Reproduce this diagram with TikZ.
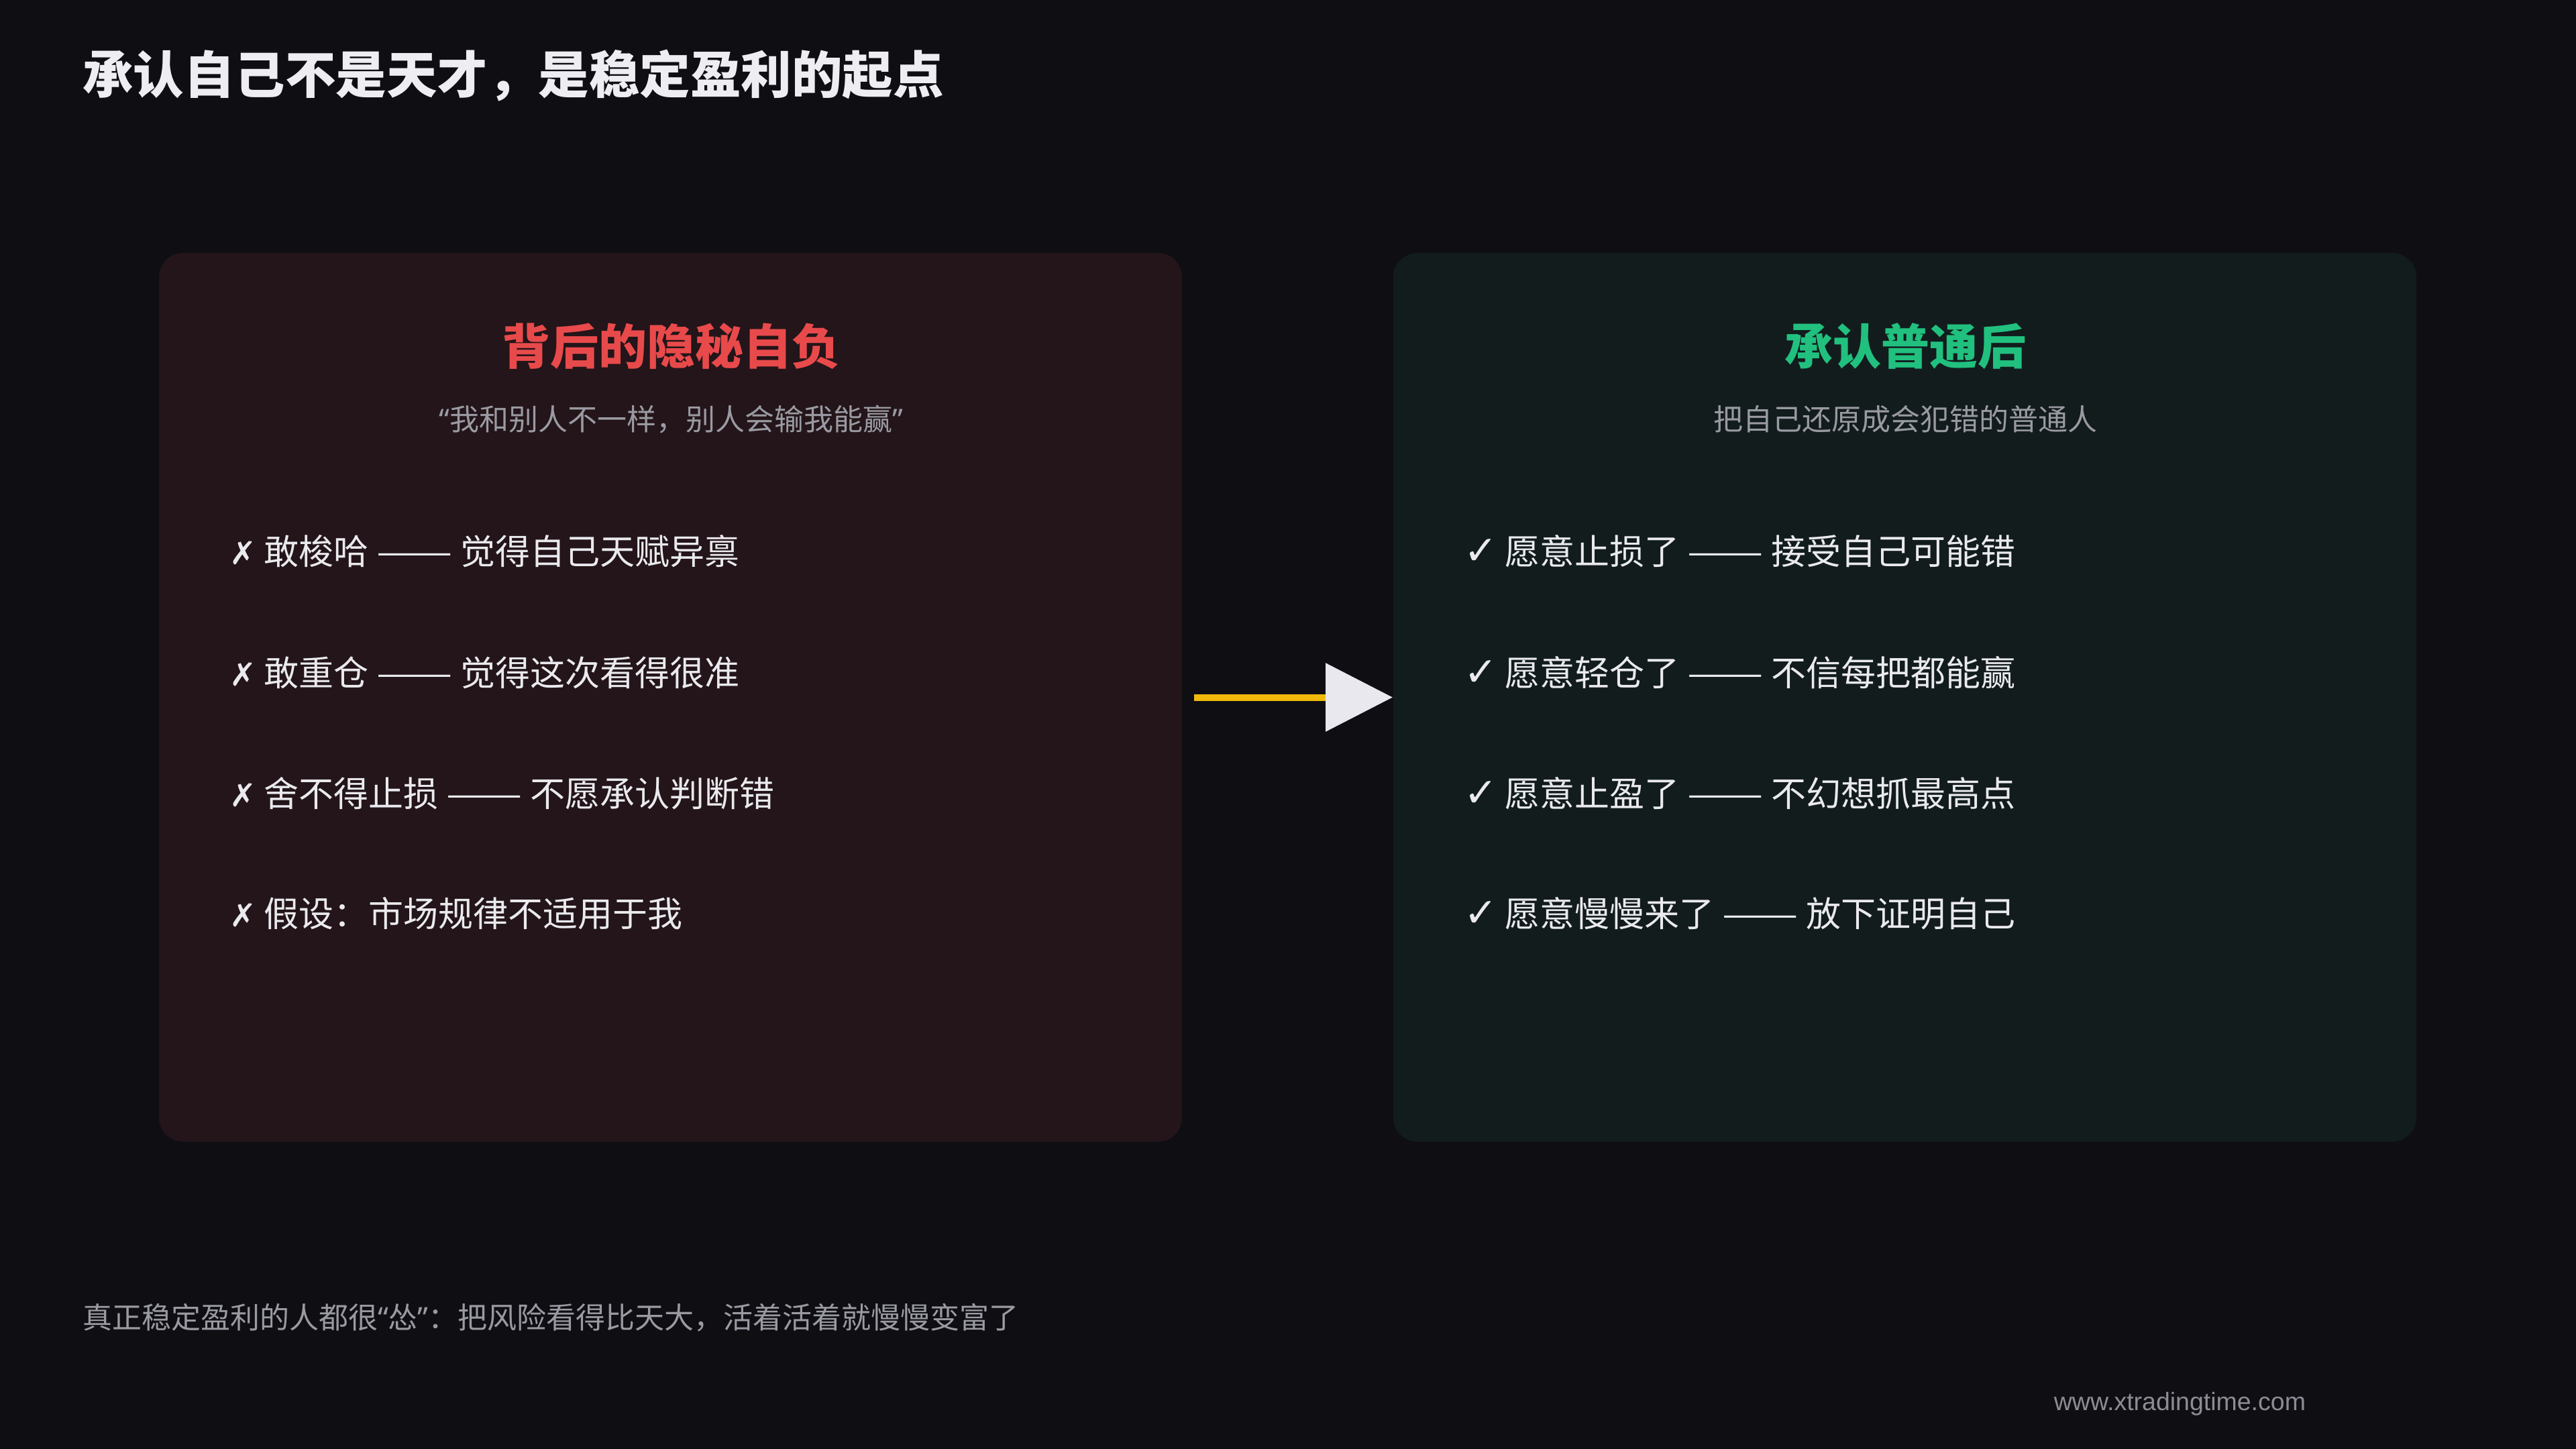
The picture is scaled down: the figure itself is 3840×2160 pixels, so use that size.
\documentclass[tikz,border=0pt]{standalone}
\usepackage{fontspec}
\usepackage{graphicx}
\setmainfont{Noto Sans CJK SC}
\newfontfamily\symfont{DejaVu Sans}
\newfontfamily\webfont{Liberation Sans}
\newfontfamily\quotefont{Noto Sans}
\usetikzlibrary{arrows.meta}
\definecolor{bgc}{HTML}{0E0E13}
\definecolor{leftbox}{HTML}{231519}
\definecolor{rightbox}{HTML}{121C1D}
\definecolor{titlec}{HTML}{EDEDF2}
\definecolor{redc}{HTML}{E84A4B}
\definecolor{greenc}{HTML}{21C07E}
\definecolor{grayc}{HTML}{9A9AA2}
\definecolor{itemc}{HTML}{EAEAEE}
\definecolor{yellowc}{HTML}{F0B90B}
\definecolor{tipc}{HTML}{E8E8EE}
\definecolor{webc}{HTML}{8C8C94}
\tikzset{
  panel/.style={rectangle, rounded corners=7.2pt, minimum width=305pt, minimum height=265pt, inner sep=0pt},
  maintitle/.style={anchor=west, inner sep=0pt, text=titlec, font=\fontsize{15.1pt}{18pt}\selectfont\bfseries},
  paneltitle/.style={inner sep=0pt, font=\fontsize{14.4pt}{17pt}\selectfont\bfseries},
  subtitle/.style={inner sep=0pt, text=grayc, font=\fontsize{8.8pt}{10.5pt}\selectfont},
  item/.style={anchor=west, inner sep=0pt, text=itemc, font=\fontsize{10.4pt}{12.5pt}\selectfont},
  footnote/.style={anchor=west, inner sep=0pt, text=grayc, font=\fontsize{8.8pt}{10.5pt}\selectfont},
  weblabel/.style={anchor=base east, inner sep=0pt, text=webc, font=\webfont\fontsize{7.5pt}{9pt}\selectfont},
  flow/.style={draw=yellowc, line width=2pt, -{Triangle[length=20pt,width=20pt,color=tipc,fill=tipc]}}
}
\newcommand{\xmark}{{\symfont\fontsize{9.5pt}{10pt}\selectfont ✗}}
\newcommand{\cmark}{{\symfont\fontsize{12pt}{12pt}\selectfont ✓}}
\newcommand{\ldash}{\scalebox{1.3}[1]{——}}
\newcommand{\myoq}{{\quotefont “}}
\newcommand{\mycq}{{\quotefont ”}}
\begin{document}
\begin{tikzpicture}[x=0.2pt,y=-0.2pt]
\fill[bgc] (0,0) rectangle (3840,2160);
\useasboundingbox (0,0) rectangle (3840,2160);

\node[maintitle] (title) at (122,113) {承认自己不是天才，是稳定盈利的起点};

\node[panel, fill=leftbox] (L) at (999.5,1039.5) {};
\node[panel, fill=rightbox] (R) at (2839.5,1039.5) {};

\node[paneltitle, text=redc] (Lt) at (1000,516) {背后的隐秘自负};
\node[subtitle] (Ls) at (1000,625) {\myoq 我和别人不一样，别人会输我能赢\mycq};
\node[paneltitle, text=greenc] (Rt) at (2840,516) {承认普通后};
\node[subtitle] (Rs) at (2840,625) {把自己还原成会犯错的普通人};

\node[item] (L1) at (341,822) {\xmark\ 敢梭哈 \ldash\ 觉得自己天赋异禀};
\node[item] (L2) at (341,1003) {\xmark\ 敢重仓 \ldash\ 觉得这次看得很准};
\node[item] (L3) at (341,1183) {\xmark\ 舍不得止损 \ldash\ 不愿承认判断错};
\node[item] (L4) at (341,1362) {\xmark\ 假设：市场规律不适用于我};

\node[item] (R1) at (2181,822) {\cmark\ 愿意止损了 \ldash\ 接受自己可能错};
\node[item] (R2) at (2181,1003) {\cmark\ 愿意轻仓了 \ldash\ 不信每把都能赢};
\node[item] (R3) at (2181,1183) {\cmark\ 愿意止盈了 \ldash\ 不幻想抓最高点};
\node[item] (R4) at (2181,1362) {\cmark\ 愿意慢慢来了 \ldash\ 放下证明自己};

\draw[flow] ([xshift=3.4pt]L.east) -- (R.west);

\node[footnote] (foot) at (122,1964) {真正稳定盈利的人都很\myoq 怂\mycq ：把风险看得比天大，活着活着就慢慢变富了};
\node[weblabel] (web) at (3438,2102) {www.xtradingtime.com};
\end{tikzpicture}
\end{document}
